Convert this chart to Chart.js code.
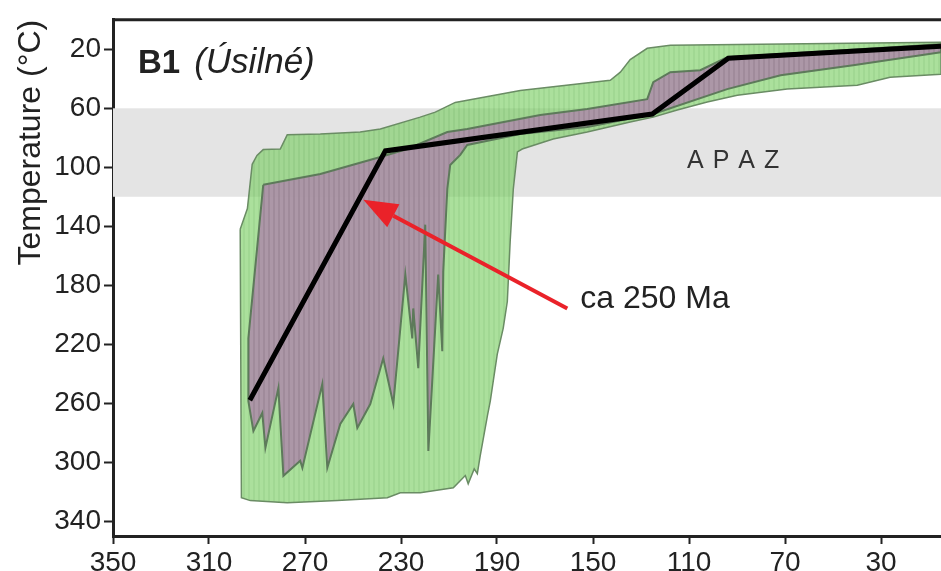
<!DOCTYPE html>
<html>
<head>
<meta charset="utf-8">
<script src="https://cdn.jsdelivr.net/npm/chart.js@4.4.0/dist/chart.umd.min.js"></script>
<style>
  html, body { margin: 0; padding: 0; background: #fff; }
</style>
</head>
<body>
<canvas id="myChart" width="941" height="571"></canvas>
<script>
// ages in Ma, temperatures in °C
var greenTopAge  = [297, 294, 292, 290, 287.4, 280.3, 277.4, 263.6, 247, 238.6, 222, 215.7, 207.4, 180.3, 142.8, 138.6, 134.5, 127.4, 117.8, 5];
var greenTopTemp = [142, 128, 98, 92, 88, 87.6, 78, 77.4, 76, 74, 66, 62.6, 56, 48, 41, 35.5, 27, 19.3, 17.3, 15.3];
var greenBotAge  = [296.5, 292.8, 277.4, 256.5, 235.7, 230.3, 222, 208.2, 203.2, 202, 199.5, 198.2, 197, 194, 192.8, 189.9, 187.4, 185.7, 184.5, 183.2, 181.5, 179.5, 166.6, 152.4, 134.5, 124.9, 114.9, 102.4, 89.9, 69.1, 39.9, 26.2, 5];
var greenBotTemp = [324, 326, 327.4, 326, 324, 320.7, 320.7, 317.3, 309, 314.6, 304.5, 307.8, 295.7, 268.6, 258.5, 226.8, 209, 191, 150, 114.6, 89.6, 87.6, 80.8, 76.1, 69.3, 66, 61.2, 55.8, 51.1, 47, 44.3, 38.9, 36.9];

var pinkTopAge  = [287.4, 263.6, 238.6, 227.4, 210.7, 202.4, 172, 152.4, 127.4, 124.9, 117.8, 105.3, 94.1, 5];
var pinkTopTemp = [111.9, 104.5, 93, 87.6, 76.1, 74.1, 64.6, 60.5, 53.8, 42.3, 35.5, 34.2, 25.4, 16.6];
var pinkBotAge  = [293.6, 293.6, 291.5, 287.8, 286.5, 281.1, 279, 272, 271.1, 262.8, 260.7, 255.3, 249.9, 248.2, 242.8, 237.4, 233.2, 228.2, 225.3, 224.9, 222.8, 219.9, 218.6, 214.5, 212.8, 212.4, 210.7, 209.5, 205.3, 202.4, 180.3, 152.4, 124.9, 94.1, 71.8, 41.6, 5];
var pinkBotTemp = [216, 258.5, 278.8, 266.6, 290.3, 249.7, 309.2, 299, 303.8, 247, 303.8, 274, 260.5, 276.8, 260.5, 229.5, 260.5, 172.7, 216, 195.7, 236.2, 138.9, 292.3, 172.7, 224.7, 170.7, 114.6, 98.4, 91.6, 84.9, 77.4, 72.7, 63.9, 47, 37.6, 30.8, 22];

// best-fit path
var pathAge  = [293, 236.5, 125.3, 93.6, 5];
var pathTemp = [258, 88.9, 63.9, 26.1, 18];

var xTicks = [350, 310, 270, 230, 190, 150, 110, 70, 30];
var yTicks = [20, 60, 100, 140, 180, 220, 260, 300, 340];
var apazBand = [60, 120];
var arrowFrom = [160.7, 195.7];
var arrowTo = [245.7, 122];
var arrowText = [155.3, 189.6];
var apazText = [91.6, 96];

var FONT = "'Liberation Sans', Arial, sans-serif";

// build a closed outline from a top and bottom edge
function envelope(topAge, topTemp, botAge, botTemp) {
  var pts = [];
  for (var i = 0; i < topAge.length; i++) pts.push({x: topAge[i], y: topTemp[i]});
  for (var j = botAge.length - 1; j >= 0; j--) pts.push({x: botAge[j], y: botTemp[j]});
  pts.push({x: topAge[0], y: topTemp[0]});
  return pts;
}

function line(ages, temps) {
  return ages.map(function(a, i) { return {x: a, y: temps[i]}; });
}

var ctx = document.getElementById('myChart').getContext('2d');

// vertical stripes like the original raster
function stripes(c1, c2) {
  var pc = document.createElement('canvas');
  pc.width = 5; pc.height = 4;
  var p = pc.getContext('2d');
  p.fillStyle = c1; p.fillRect(0, 0, 3, 4);
  p.fillStyle = c2; p.fillRect(3, 0, 2, 4);
  return ctx.createPattern(pc, 'repeat');
}

var greenFill = stripes('rgba(120,205,95,0.62)', 'rgba(108,194,86,0.64)');
var pinkFill = stripes('rgba(172,145,168,0.93)', 'rgba(160,133,156,0.93)');

var extras = {
  id: 'extras',
  beforeDatasetsDraw: function(chart) {
    var c = chart.ctx, a = chart.chartArea, ys = chart.scales.y;
    var y1 = ys.getPixelForValue(apazBand[0]), y2 = ys.getPixelForValue(apazBand[1]);
    c.save();
    c.fillStyle = '#e4e4e4';
    c.fillRect(a.left, y1, a.right - a.left, y2 - y1);
    c.restore();
  },
  afterDatasetsDraw: function(chart) {
    var c = chart.ctx, a = chart.chartArea, xs = chart.scales.x, ys = chart.scales.y;
    c.save();

    // red arrow
    var x0 = xs.getPixelForValue(arrowFrom[0]), y0 = ys.getPixelForValue(arrowFrom[1]);
    var x1 = xs.getPixelForValue(arrowTo[0]), y1 = ys.getPixelForValue(arrowTo[1]);
    var ang = Math.atan2(y1 - y0, x1 - x0);
    var hl = 34, hw = 13;
    var bx = x1 - hl * Math.cos(ang), by = y1 - hl * Math.sin(ang);
    c.strokeStyle = '#ea2229';
    c.fillStyle = '#ea2229';
    c.lineWidth = 4;
    c.beginPath(); c.moveTo(x0, y0); c.lineTo(bx, by); c.stroke();
    c.beginPath();
    c.moveTo(x1, y1);
    c.lineTo(bx + hw * Math.sin(ang), by - hw * Math.cos(ang));
    c.lineTo(bx - hw * Math.sin(ang), by + hw * Math.cos(ang));
    c.closePath(); c.fill();

    // annotation
    c.fillStyle = '#222';
    c.font = '32px ' + FONT;
    c.textAlign = 'left';
    c.textBaseline = 'middle';
    c.fillText('ca 250 Ma', xs.getPixelForValue(arrowText[0]), ys.getPixelForValue(arrowText[1]));

    // APAZ, spaced out
    c.font = '25px ' + FONT;
    c.fillStyle = '#333';
    var word = 'APAZ', gap = 9, w = 0;
    for (var i = 0; i < word.length; i++) w += c.measureText(word[i]).width + (i ? gap : 0);
    var ax = xs.getPixelForValue(apazText[0]) - w / 2, ay = ys.getPixelForValue(apazText[1]);
    for (var k = 0; k < word.length; k++) {
      c.fillText(word[k], ax, ay);
      ax += c.measureText(word[k]).width + gap;
    }

    // panel title
    c.fillStyle = '#222';
    c.textBaseline = 'alphabetic';
    c.font = 'bold 33px ' + FONT;
    c.fillText('B1', a.left + 25, a.top + 53);
    var bw = c.measureText('B1').width;
    c.font = 'italic 35px ' + FONT;
    c.fillText('(Úsilné)', a.left + 25 + bw + 14, a.top + 53);

    // top frame line
    c.strokeStyle = '#222';
    c.lineWidth = 3;
    c.beginPath(); c.moveTo(a.left, a.top); c.lineTo(a.right, a.top); c.stroke();

    // y axis title, sitting at the top
    c.translate(31, a.top);
    c.rotate(-Math.PI / 2);
    c.font = '32px ' + FONT;
    c.fillStyle = '#222';
    c.textAlign = 'right';
    c.textBaseline = 'middle';
    c.fillText('Temperature (°C)', 0, 0);
    c.restore();
  }
};

var myChart = new Chart(ctx, {
  type: 'line',
  data: {
    datasets: [{
      data: line(pathAge, pathTemp),
      borderColor: '#000',
      borderWidth: 5,
      fill: false
    }, {
      data: envelope(pinkTopAge, pinkTopTemp, pinkBotAge, pinkBotTemp),
      borderColor: '#5d7a5a',
      borderWidth: 2,
      backgroundColor: pinkFill,
      fill: 'shape'
    }, {
      data: envelope(greenTopAge, greenTopTemp, greenBotAge, greenBotTemp),
      borderColor: '#6a8c64',
      borderWidth: 1.5,
      backgroundColor: greenFill,
      fill: 'shape'
    }]
  },
  options: {
    responsive: false,
    animation: false,
    layout: { padding: { top: 16, right: 0, left: 0, bottom: 0 } },
    elements: { point: { radius: 0 }, line: { tension: 0 } },
    plugins: { legend: { display: false }, tooltip: { enabled: false } },
    scales: {
      x: {
        type: 'linear',
        reverse: true,
        min: 5,
        max: 350,
        afterBuildTicks: function(s) { s.ticks = xTicks.map(function(v) { return {value: v}; }); },
        afterFit: function(s) { s.height = 35; },
        grid: { drawOnChartArea: false, tickLength: 8, tickColor: '#222', tickWidth: 2 },
        border: { color: '#222', width: 3 },
        ticks: { color: '#222', padding: 2, maxRotation: 0, autoSkip: false, font: { size: 28, family: FONT } }
      },
      y: {
        type: 'linear',
        reverse: true,
        min: 0,
        max: 350,
        afterBuildTicks: function(s) { s.ticks = yTicks.map(function(v) { return {value: v}; }); },
        afterFit: function(s) { s.width = 113; },
        grid: { drawOnChartArea: false, tickLength: 9, tickColor: '#222', tickWidth: 2 },
        border: { color: '#222', width: 3 },
        ticks: { color: '#222', padding: 3, autoSkip: false, font: { size: 28, family: FONT } }
      }
    }
  },
  plugins: [extras]
});
</script>
</body>
</html>
